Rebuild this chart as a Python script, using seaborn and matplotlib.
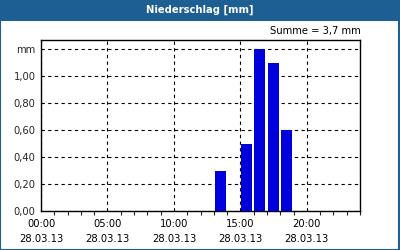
import matplotlib
matplotlib.use("Agg")
import matplotlib.pyplot as plt
import seaborn as sns
import pandas as pd
import numpy as np
from matplotlib.patches import Rectangle
from matplotlib.ticker import MultipleLocator, FixedLocator

# data
hours = [13, 15, 16, 17, 18]
values = [0.30, 0.50, 1.20, 1.10, 0.60]
x_labels = ["00:00\n28.03.13", "05:00\n28.03.13", "10:00\n28.03.13",
            "15:00\n28.03.13", "20:00\n28.03.13"]
y_labels = ["0,00", "0,20", "0,40", "0,60", "0,80", "1,00", "mm"]
title = "Niederschlag [mm]"
summe = "Summe = 3,7 mm"

sns.set_style("white")
plt.rcParams['font.family'] = ['DejaVu Sans']

header = "#1d5f92"
fig = plt.figure(figsize=(4, 2.5), dpi=100)
fig.patch.set_facecolor("white")
ax = fig.add_axes([0.1025, 0.156, 0.7975, 0.684])

df = pd.DataFrame({"t": np.array(hours) + 0.47, "v": values})
sns.barplot(data=df, x="t", y="v", native_scale=True, width=0.83,
            color="#0000dd", saturation=1, ax=ax, zorder=3,
            linewidth=0, edgecolor="none")
ax.set_xlim(0, 24)
ax.set_ylim(0, 1.267)
ax.set_xlabel("")
ax.set_ylabel("")

ax.xaxis.set_major_locator(FixedLocator([0, 5, 10, 15, 20]))
ax.set_xticklabels(x_labels, fontsize=7.2, linespacing=1.55)
ax.xaxis.set_minor_locator(MultipleLocator(1))
ax.set_yticks([0, 0.2, 0.4, 0.6, 0.8, 1.0, 1.2])
ax.set_yticklabels(y_labels, fontsize=7.2)
ax.tick_params(axis="x", which="major", direction="out", length=4, width=0.8, pad=2, colors="black")
ax.tick_params(axis="x", which="minor", direction="out", length=3, width=0.8, bottom=True)
ax.tick_params(axis="y", which="major", length=0, pad=4)
ax.grid(True, which="major", axis="both", color="black", linestyle=(0, (3, 3)), linewidth=0.8)
ax.set_axisbelow(True)
for s in ax.spines.values():
    s.set_color("black")
    s.set_linewidth(1.0)
    s.set_visible(True)

# header bar
fig.patches.append(Rectangle((0, 1 - 20.5/250), 1, 20.5/250, transform=fig.transFigure,
                             facecolor=header, edgecolor="none", zorder=0))
fig.text(0.5, 1 - 10/250, title, ha="center", va="center", color="white",
         fontsize=7.2, fontweight="bold")
fig.text(0.902, 1 - 31/250, summe, ha="right", va="center", fontsize=7.2, color="black")
# border
fig.patches.append(Rectangle((0.001, 0.002), 0.997, 0.996, transform=fig.transFigure,
                             facecolor="none", edgecolor=header, linewidth=1.5, zorder=5))

fig.savefig("out.png", dpi=100)
